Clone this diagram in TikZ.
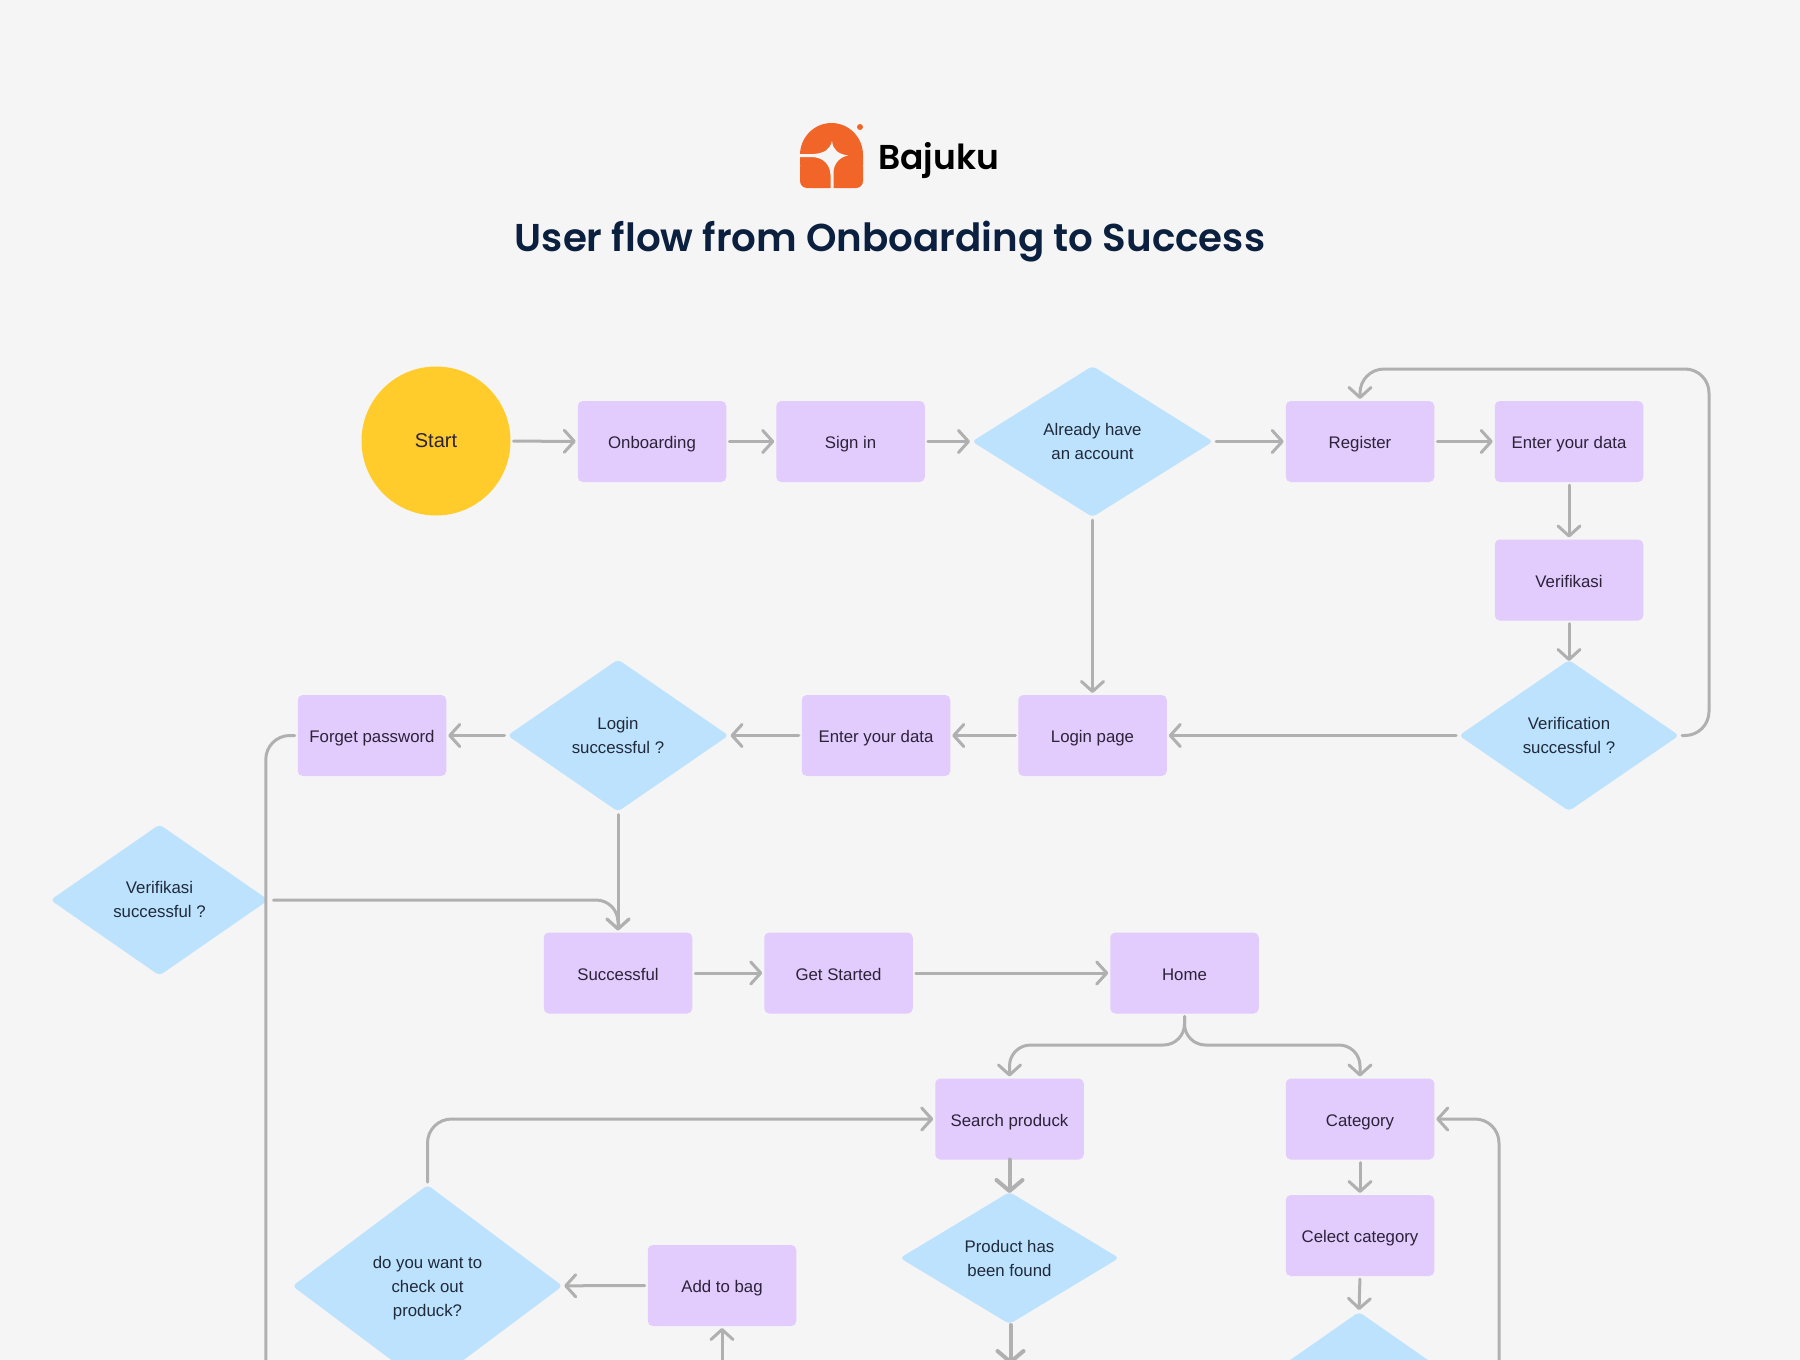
\documentclass[tikz,border=0pt]{standalone}
\usepackage{fontspec}
\setmainfont{Liberation Sans}
\newfontfamily\headfont{Poppins SemiBold}
\usetikzlibrary{arrows.meta,shapes.geometric,calc}
\definecolor{bgc}{HTML}{F5F5F5}
\definecolor{pur}{HTML}{E2CBFD}
\definecolor{blu}{HTML}{BDE2FD}
\definecolor{yel}{HTML}{FFCC2B}
\definecolor{lin}{HTML}{B0B0B0}
\definecolor{ora}{HTML}{F26529}
\definecolor{nav}{HTML}{0B1F3F}
\definecolor{txp}{HTML}{2D2238}
\definecolor{txb}{HTML}{1F2A3A}
\newcommand{\dtxt}[1]{\smash{\makebox[0pt]{\raisebox{-0.32em}{\begin{tabular}{@{}c@{}}#1\end{tabular}}}}}
\newcommand{\dtxtlow}[1]{\smash{\makebox[0pt]{\raisebox{-0.38em}{\begin{tabular}{@{}c@{}}#1\end{tabular}}}}}
\tikzset{
  box/.style={rectangle,rounded corners=5pt,fill=pur,text=txp,minimum width=148.5pt,minimum height=81pt,inner sep=0pt,outer sep=0pt,font=\fontsize{16.8}{24}\selectfont,text height=14.5pt,text depth=0.5pt},
  dia/.style={diamond,rounded corners=4pt,fill=blu,text=txb,inner sep=0pt,outer sep=0pt,shape aspect=1.45,font=\fontsize{16.8}{24}\selectfont},
  arr/.style={draw=lin,line width=3pt,line cap=round,-{Straight Barb[length=10pt,width=22pt,line width=3pt,round]},shorten <=3pt,shorten >=2pt},
  arrthick/.style={arr,line width=4pt,-{Straight Barb[length=11pt,width=26pt,line width=4pt,round]}},
  plain/.style={draw=lin,line width=3pt,line cap=round,shorten <=3pt}
}
\begin{document}
\begin{tikzpicture}[x=1pt,y=-1pt]
\useasboundingbox (0,0) rectangle (1800,1360);
\clip (0,0) rectangle (1800,1360);
\fill[bgc] (0,0) rectangle (1800,1360);
% logo
\fill[ora,rounded corners=7pt] (800,188) -- (800,160) -- (863,160) -- (863,188) -- cycle;
\fill[ora] (800,165) -- (800,155) arc[start angle=180,end angle=360,x radius=31.5,y radius=32] -- (863,165) -- cycle;
\fill[bgc] (832,141) .. controls (833,150) and (838,154) .. (848,155.5) .. controls (840,157) and (834,163) .. (833.5,172) -- (833.5,190) -- (830.5,190) -- (830.5,175) .. controls (830,164) and (823,157.5) .. (812,157) -- (798,157) -- (798,154) -- (814,154) .. controls (824,153) and (830,150) .. (832,141) -- cycle;
\fill[ora] (860,127) circle[radius=3pt];
\node[anchor=base west,inner sep=0pt,font=\headfont\fontsize{34.5}{36}\selectfont,text=black] (brand) at (878,169) {Bajuku};
\node[anchor=base,inner sep=0pt,font=\headfont\fontsize{38.8}{44}\selectfont,text=nav] (title) at (890,251) {User flow from Onboarding to Success};
% nodes
\node[circle,fill=yel,text=txp,minimum size=149pt,inner sep=0pt,outer sep=0pt,font=\fontsize{20}{24}\selectfont] (start) at (436,441) {Start};
\node[box] (onb) at (652,441.5) {Onboarding};
\node[box] (sign) at (850.5,441.5) {Sign in};
\node[dia,minimum width=241pt,minimum height=151pt] (acc) at (1092.5,441.5) {\dtxt{Already have\\an account}};
\node[box] (reg) at (1360,441.5) {Register};
\node[box] (ent) at (1569,441.5) {Enter your data};
\node[box] (ver) at (1569,580) {Verifikasi};
\node[dia,minimum width=220pt,minimum height=151pt] (vers) at (1569,735.5) {\dtxt{Verification\\successful ?}};
\node[box] (logp) at (1092.5,735.5) {Login page};
\node[box] (ent2) at (876,735.5) {Enter your data};
\node[dia,minimum width=221pt,minimum height=152pt] (logs) at (618,735.5) {\dtxt{Login\\successful ?}};
\node[box] (forg) at (372,735.5) {Forget password};
\node[dia,minimum width=218pt,minimum height=151pt] (vrs) at (159.5,900) {\dtxt{Verifikasi\\successful ?}};
\node[box] (succ) at (618,973) {Successful};
\node[box] (gets) at (838.5,973) {Get Started};
\node[box] (home) at (1184.5,973) {Home};
\node[box] (srch) at (1009.5,1119) {Search produck};
\node[box] (cat) at (1360,1119) {Category};
\node[box] (cel) at (1360,1235.5) {Celect category};
\node[dia,minimum width=219pt,minimum height=132pt] (prod) at (1009.5,1258) {\dtxtlow{Product has\\been found}};
\node[dia,minimum width=218pt,minimum height=152pt] (catd) at (1359,1388) {};
\node[dia,shape aspect=1.34,minimum width=270pt,minimum height=202pt] (chk) at (427.5,1286) {\dtxtlow{do you want to\\check out\\produck?}};
\node[box] (bag) at (722,1285.5) {Add to bag};
% free ends and bends
\coordinate (startprod) at ($(prod.south)+(1,0)$);
\coordinate (endprod) at (startprod |- 0,1364);
\coordinate (endbag) at (722,1364);
\coordinate (endforg) at (265.8,1364);
\coordinate (endcat) at (1499,1364);
\coordinate (loopr) at (1709,735.5);
\coordinate (loopt) at (1709,369);
\coordinate (forkl) at (1184.5,1045);
% connectors
\draw[arr] (start) -- (onb);
\draw[arr] (onb) -- (sign);
\draw[arr] (sign) -- (acc);
\draw[arr] (acc) -- (reg);
\draw[arr] (reg) -- (ent);
\draw[arr] (ent) -- (ver);
\draw[arr,shorten >=-1pt] (ver) -- (vers);
\draw[arr,rounded corners=24pt] (vers.east) -- (loopr) -- (loopt) -| (reg.north);
\draw[arr] (vers) -- (logp);
\draw[arr] (acc) -- (logp);
\draw[arr] (logp) -- (ent2);
\draw[arr] (ent2) -- (logs);
\draw[arr] (logs) -- (forg);
\draw[arr] (logs) -- (succ);
\draw[plain,rounded corners=24pt] (forg.west) -| (endforg);
\draw[arr,rounded corners=22pt,shorten <=5pt] (vrs.east) -| (succ.north);
\draw[arr] (succ) -- (gets);
\draw[arr] (gets) -- (home);
\draw[arr,rounded corners=21pt] (home.south) -- (forkl) -| (srch.north);
\draw[arr,rounded corners=21pt] (home.south) -- (forkl) -| (cat.north);
\draw[arrthick,shorten >=-1pt,shorten <=0pt] (srch) -- (prod);
\draw[arr] (cat) -- (cel);
\draw[arr] (cel.south) -- (catd.north);
\draw[arrthick,shorten >=0pt,shorten <=1pt] (startprod) -- (endprod);
\draw[arr,rounded corners=24pt,shorten <=0pt] (endcat) |- (cat.east);
\draw[arr,shorten <=0pt] (endbag) -- (bag);
\draw[arr] (bag) -- (chk);
\draw[arr,rounded corners=24pt] (chk.north) |- (srch.west);
\end{tikzpicture}
\end{document}
